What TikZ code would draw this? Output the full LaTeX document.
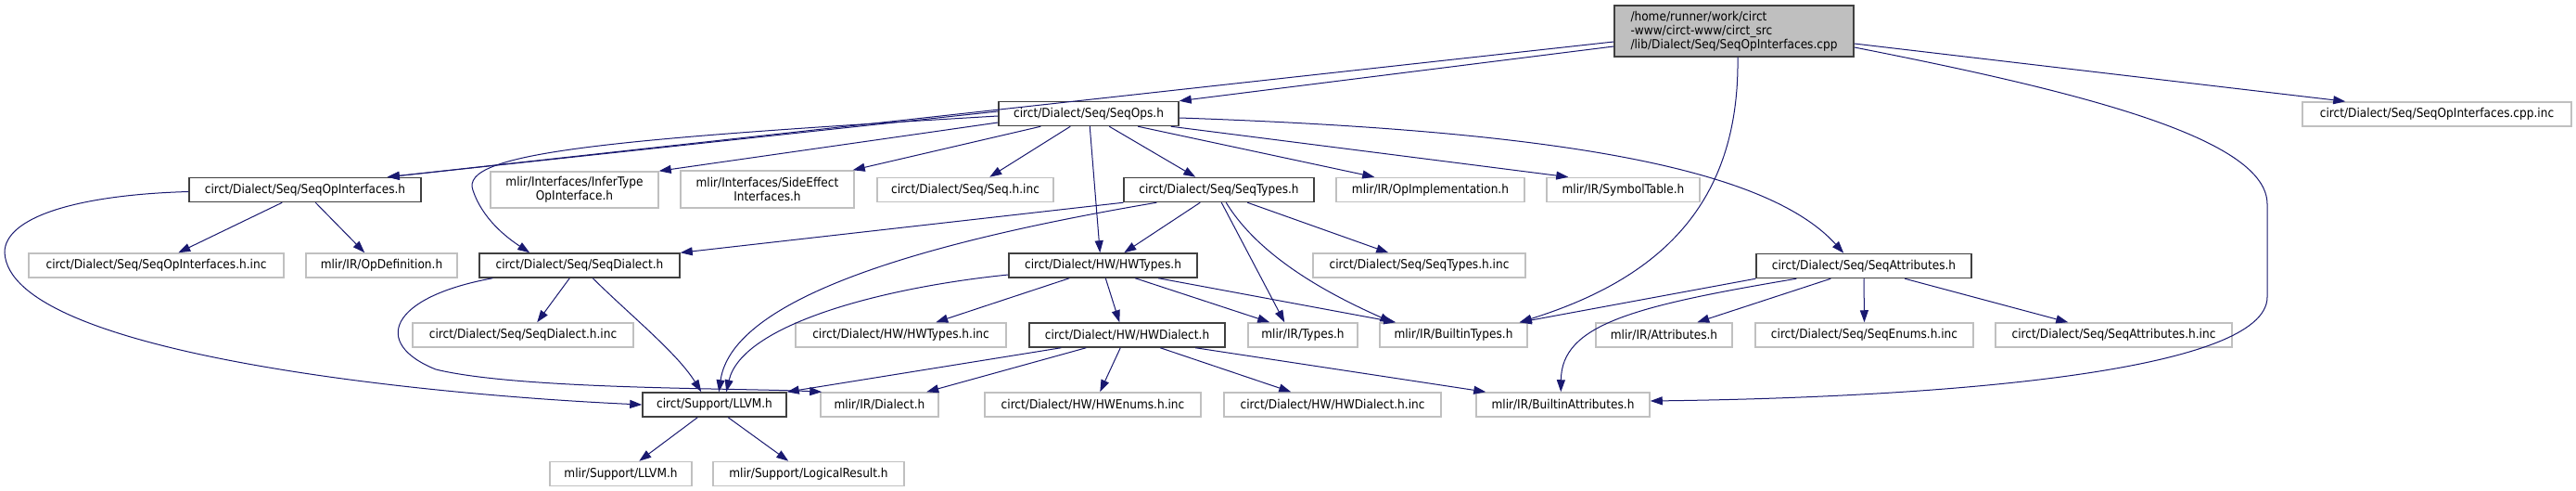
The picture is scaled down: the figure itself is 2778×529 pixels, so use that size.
\documentclass[tikz,border=0pt]{standalone}
\usepackage{fontspec}
\setmainfont{DejaVu Sans Condensed}
\usetikzlibrary{arrows.meta}
\definecolor{edgeblue}{HTML}{191970}
\definecolor{docframe}{HTML}{404040}
\definecolor{extframe}{HTML}{C0C0C0}
\definecolor{rootfill}{HTML}{BFBFBF}
\begin{document}
\begin{tikzpicture}[x=1pt,y=-1pt, every node/.style={font=\fontsize{13.5}{15}\selectfont}, hdr/.style={draw=docframe,line width=1.5pt,minimum height=26pt,inner sep=0pt}, ext/.style={draw=extframe,line width=1.5pt,minimum height=26pt,inner sep=0pt}, dep/.style={draw=edgeblue,line width=1pt,-{Triangle[length=13pt,width=9pt]}}]
\fill[white] (0,0) rectangle (2778,529);
% top
\node[hdr,fill=rootfill,minimum width=258pt,minimum height=55pt,align=left] (root) at (1870,33.5) {/home/runner/work/circt\\-www/circt-www/circt\_src\\/lib/Dialect/Seq/SeqOpInterfaces.cpp};
\node[hdr,minimum width=194pt] (seqops) at (1174,122.5) {circt/Dialect/Seq/SeqOps.h};
\node[ext,minimum width=290pt] (cppinc) at (2628,123) {circt/Dialect/Seq/SeqOpInterfaces.cpp.inc};
% row 2
\node[hdr,minimum width=250pt] (seqopif) at (329,204.5) {circt/Dialect/Seq/SeqOpInterfaces.h};
\node[ext,minimum width=181pt,minimum height=39pt,align=center] (infertype) at (619.5,204.5) {mlir/Interfaces/InferType\\OpInterface.h};
\node[ext,minimum width=187pt,minimum height=40pt,align=center] (sideeffect) at (827.5,204) {mlir/Interfaces/SideEffect\\Interfaces.h};
\node[ext,minimum width=190pt] (seqhinc) at (1041,204.5) {circt/Dialect/Seq/Seq.h.inc};
\node[hdr,minimum width=205pt] (seqtypes) at (1314.5,204.5) {circt/Dialect/Seq/SeqTypes.h};
\node[ext,minimum width=203pt] (opimpl) at (1542.5,204.5) {mlir/IR/OpImplementation.h};
\node[ext,minimum width=165pt] (symtab) at (1750.5,204.5) {mlir/IR/SymbolTable.h};
% row 3
\node[ext,minimum width=275pt] (seqopifinc) at (168.5,286) {circt/Dialect/Seq/SeqOpInterfaces.h.inc};
\node[ext,minimum width=163pt] (opdef) at (411.5,286) {mlir/IR/OpDefinition.h};
\node[hdr,minimum width=216pt] (seqdialect) at (625,286) {circt/Dialect/Seq/SeqDialect.h};
\node[hdr,minimum width=203pt] (hwtypes) at (1189.5,286) {circt/Dialect/HW/HWTypes.h};
\node[ext,minimum width=229pt] (seqtypesinc) at (1530.5,286) {circt/Dialect/Seq/SeqTypes.h.inc};
\node[hdr,minimum width=232pt] (seqattr) at (2010,286.5) {circt/Dialect/Seq/SeqAttributes.h};
% row 4
\node[ext,minimum width=238pt] (seqdialectinc) at (564,361) {circt/Dialect/Seq/SeqDialect.h.inc};
\node[ext,minimum width=227pt] (hwtypesinc) at (971.5,361) {circt/Dialect/HW/HWTypes.h.inc};
\node[hdr,minimum width=211pt] (hwdialect) at (1215.5,361) {circt/Dialect/HW/HWDialect.h};
\node[ext,minimum width=118pt] (types) at (1405,361) {mlir/IR/Types.h};
\node[ext,minimum width=159pt] (builtintypes) at (1567.5,361) {mlir/IR/BuiltinTypes.h};
\node[ext,minimum width=147pt] (attributes) at (1794.5,361) {mlir/IR/Attributes.h};
\node[ext,minimum width=235pt] (seqenums) at (2010.5,361) {circt/Dialect/Seq/SeqEnums.h.inc};
\node[ext,minimum width=255pt] (seqattrinc) at (2279.5,361) {circt/Dialect/Seq/SeqAttributes.h.inc};
% row 5
\node[hdr,minimum width=155pt] (llvm) at (770.5,436) {circt/Support/LLVM.h};
\node[ext,minimum width=127pt] (dialect) at (948.5,436) {mlir/IR/Dialect.h};
\node[ext,minimum width=233pt] (hwenums) at (1178.5,436) {circt/Dialect/HW/HWEnums.h.inc};
\node[ext,minimum width=234pt] (hwdialectinc) at (1437,436) {circt/Dialect/HW/HWDialect.h.inc};
\node[ext,minimum width=187pt] (builtinattr) at (1685.5,436) {mlir/IR/BuiltinAttributes.h};
% row 6
\node[ext,minimum width=153pt] (mlirllvm) at (669.5,510.5) {mlir/Support/LLVM.h};
\node[ext,minimum width=206pt] (logical) at (872,510.5) {mlir/Support/LogicalResult.h};
% includes of the source file
\draw[dep] ([yshift=-11.5pt]root.west) -- ([xshift=-37pt]seqopif.north east);
\draw[dep] ([yshift=-16.5pt]root.west) -- (seqops.north east);
\draw[dep] ([yshift=-13.5pt]root.east) -- ([xshift=47pt]cppinc.north west);
\draw[dep] ([yshift=-17.5pt]root.east) .. controls (2250,100) and (2445,150) .. (2445,220) -- (2445,320) .. controls (2445,400) and (2100,428) .. ([yshift=4pt]builtinattr.east);
\draw[dep] ([xshift=4pt]root.south) .. controls (1876,220) and (1790,300) .. ([xshift=-9pt]builtintypes.north east);
% SeqOps.h
\draw[dep] ([yshift=2.5pt]seqops.west) -- ([xshift=-37pt]seqopif.north east);
\draw[dep] ([yshift=-2.5pt]seqops.west) .. controls (650,150) and (495,165) .. (510,205) .. controls (520,235) and (545,255) .. ([xshift=55pt]seqdialect.north west);
\draw[dep] ([yshift=-9.5pt]seqops.west) -- (infertype.north east);
\draw[dep] ([xshift=46pt]seqops.south west) -- ([xshift=-2pt]sideeffect.north east);
\draw[dep] ([xshift=78pt]seqops.south west) -- ([xshift=122pt]seqhinc.north west);
\draw[dep] ([xshift=99pt]seqops.south west) -- ([xshift=99pt]hwtypes.north west);
\draw[dep] ([xshift=120pt]seqops.south west) -- ([xshift=78pt]seqtypes.north west);
\draw[dep] ([xshift=151pt]seqops.south west) -- ([xshift=42pt]opimpl.north west);
\draw[dep] ([xshift=-9pt]seqops.south east) -- ([xshift=24pt]symtab.north west);
\draw[dep] ([yshift=-4.5pt]seqops.east) .. controls (1650,140) and (1900,175) .. ([xshift=95pt]seqattr.north west);
% SeqOpInterfaces.h
\draw[dep] ([xshift=101pt]seqopif.south west) -- ([xshift=162pt]seqopifinc.north west);
\draw[dep] ([xshift=137pt]seqopif.south west) -- ([xshift=64pt]opdef.north west);
\draw[dep] ([yshift=-2pt]seqopif.west) .. controls (80,210) and (5,235) .. (5,272) .. controls (10,380) and (450,425) .. (llvm.west);
% SeqTypes.h
\draw[dep] (seqtypes.south west) -- (seqdialect.north east);
\draw[dep] ([xshift=36pt]seqtypes.south west) .. controls (1000,260) and (790,320) .. ([xshift=83pt]llvm.north west);
\draw[dep] ([xshift=83pt]seqtypes.south west) -- ([xshift=125pt]hwtypes.north west);
\draw[dep] ([xshift=106pt]seqtypes.south west) -- ([xshift=40pt]types.north west);
\draw[dep] ([xshift=111pt]seqtypes.south west) .. controls (1360,280) and (1440,320) .. ([xshift=14pt]builtintypes.north west);
\draw[dep] ([xshift=134pt]seqtypes.south west) -- ([xshift=82pt]seqtypesinc.north west);
% HWTypes.h
\draw[dep] ([yshift=-10pt]hwtypes.west) .. controls (950,310) and (800,350) .. ([xshift=91pt]llvm.north west);
\draw[dep] ([xshift=66pt]hwtypes.south west) -- ([xshift=152pt]hwtypesinc.north west);
\draw[dep] ([xshift=105pt]hwtypes.south west) -- ([xshift=98pt]hwdialect.north west);
\draw[dep] ([xshift=137pt]hwtypes.south west) -- ([xshift=24pt]types.north west);
\draw[dep] ([xshift=162pt]hwtypes.south west) -- ([xshift=18pt]builtintypes.north west);
% SeqDialect.h
\draw[dep] ([xshift=98pt]seqdialect.south west) -- ([xshift=135pt]seqdialectinc.north west);
\draw[dep] ([xshift=123pt]seqdialect.south west) .. controls (680,340) and (730,380) .. ([xshift=64pt]llvm.north west);
\draw[dep] ([xshift=15pt]seqdialect.south west) .. controls (420,320) and (400,370) .. (470,398) .. controls (560,420) and (800,418) .. ([xshift=2pt]dialect.north west);
% HWDialect.h
\draw[dep] ([xshift=35pt]hwdialect.south west) -- (llvm.north east);
\draw[dep] ([xshift=62pt]hwdialect.south west) -- ([xshift=115pt]dialect.north west);
\draw[dep] ([xshift=99pt]hwdialect.south west) -- ([xshift=125pt]hwenums.north west);
\draw[dep] ([xshift=142pt]hwdialect.south west) -- ([xshift=73pt]hwdialectinc.north west);
\draw[dep] ([xshift=180pt]hwdialect.south west) -- ([xshift=11pt]builtinattr.north west);
% SeqAttributes.h
\draw[dep] (seqattr.south west) -- ([xshift=-9pt]builtintypes.north east);
\draw[dep] ([xshift=44pt]seqattr.south west) .. controls (1760,330) and (1684,350) .. ([xshift=92pt]builtinattr.north west);
\draw[dep] ([xshift=81pt]seqattr.south west) -- ([xshift=110pt]attributes.north west);
\draw[dep] (seqattr.south) -- (seqenums.north);
\draw[dep] ([xshift=161pt]seqattr.south west) -- ([xshift=79pt]seqattrinc.north west);
% LLVM.h
\draw[dep] ([xshift=60pt]llvm.south west) -- ([xshift=97pt]mlirllvm.north west);
\draw[dep] ([xshift=93pt]llvm.south west) -- ([xshift=82pt]logical.north west);
\end{tikzpicture}
\end{document}
